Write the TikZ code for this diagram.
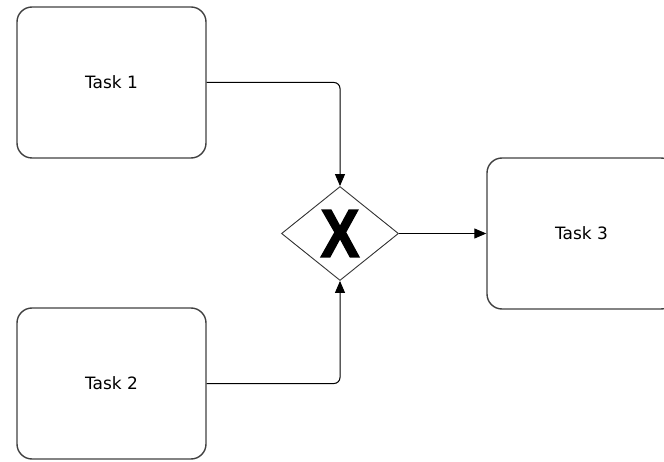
\documentclass[tikz,border=0pt]{standalone}
\usepackage{fontspec}
\setmainfont{DejaVu Sans}
\newfontfamily\gatefont[FakeBold=2]{Liberation Sans Bold}
\usetikzlibrary{positioning,arrows.meta,shapes.geometric}
\tikzset{
    on grid,
    auto,
    task/.style = {
        draw=black!75,
        shape=rectangle,
        rounded corners=15pt,
        minimum height=151pt,
        minimum width=189pt,
        line width=1.4pt,
        font=\fontsize{17}{19}\selectfont
    },
    gateway/.style = {
        draw=black!80,
        shape=diamond,
        inner sep=0pt,
        minimum height=94pt,
        minimum width=117pt,
        line width=0.9pt,
        font=\gatefont\fontsize{68}{68}\selectfont
    },
    flow/.style = {
        draw,
        line width=1pt,
        rounded corners=6pt
    },
    >={Triangle[length=12pt,width=10pt]},
}

\begin{document}
\begin{tikzpicture}
        \clip (0,0) rectangle (664pt,-462pt);

        \node[task] (task1) at (111.5pt,-82.5pt) {Task 1};
        \node[task, below of=task1, node distance=301pt] (task2) {Task 2};

        \coordinate[below of=task1, node distance=151pt] (split);
        \node[gateway, right of=split, node distance=228.5pt] (xor) {\scalebox{0.86}[1]{X}};
        \node[task, right of=xor, node distance=241.5pt] (task3) {Task 3};

        \path[flow, ->] (task1.east) -| (xor.north);
        \path[flow, ->] (task2.east) -| (xor.south);
        \path[flow, ->] (xor.east) -- (task3.west);
    \end{tikzpicture}
\end{document}
